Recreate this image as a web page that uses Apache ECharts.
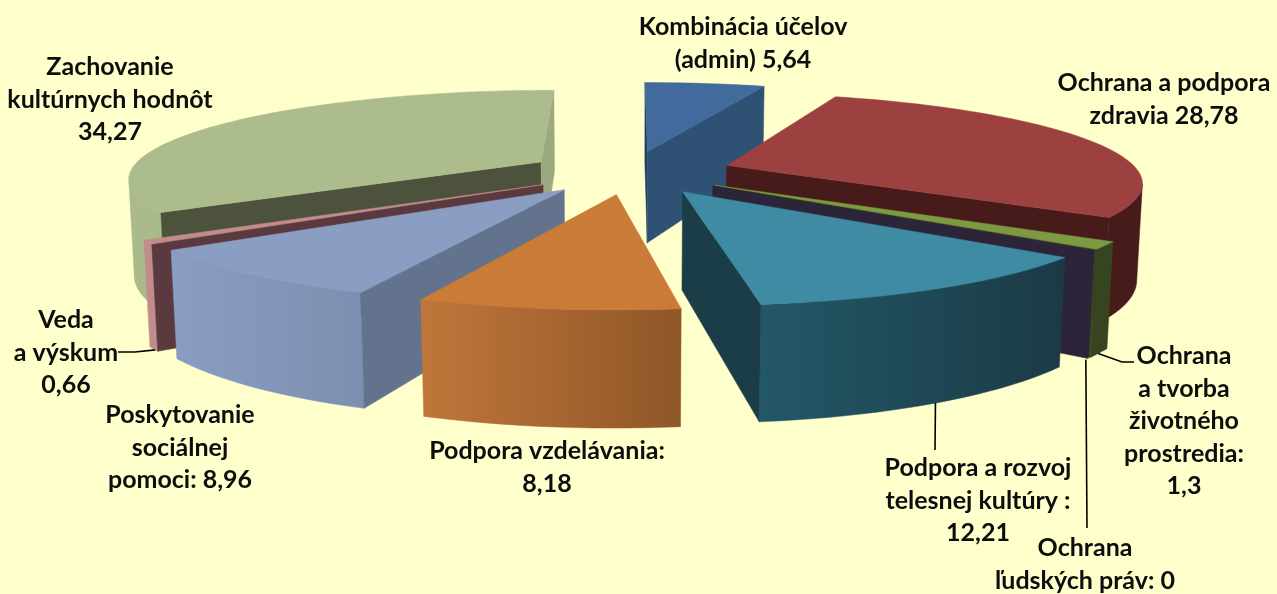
<!DOCTYPE html>
<html>
<head>
<meta charset="utf-8">
<title>Pie</title>
<style>html,body{margin:0;padding:0;background:#ffffcc}#main{width:1277px;height:594px}</style>
<script src="https://cdn.jsdelivr.net/npm/echarts@6/dist/echarts.min.js"></script>
</head>
<body>
<div id="main"></div>
<script>
// clockwise from 12 o'clock
var categories = ['Kombinácia účelov', 'Ochrana a podpora zdravia', 'Ochrana a tvorba životného prostredia',
    'Ochrana ľudských práv', 'Podpora a rozvoj telesnej kultúry', 'Podpora vzdelávania',
    'Poskytovanie sociálnej pomoci', 'Veda a výskum', 'Zachovanie kultúrnych hodnôt'];
var values = [5.64, 28.78, 1.3, 0, 12.21, 8.18, 8.96, 0.66, 34.27];
var labelTexts = ['Kombinácia účelov\n(admin) {v}', 'Ochrana a podpora\nzdravia {v}', 'Ochrana\na tvorba\nživotného\nprostredia:\n{v}',
    'Ochrana\nľudských práv: {v}', 'Podpora a rozvoj\ntelesnej kultúry :\n{v}', 'Podpora vzdelávania:\n{v}',
    'Poskytovanie\nsociálnej\npomoci: {v}', 'Veda\na výskum\n{v}', 'Zachovanie\nkultúrnych hodnôt\n{v}'];

// top, outer wall left/right, start cut wall, end cut wall
var colors = [
    ['#426a9c', '#2f5174', '#2f5174', '#1f3f63', '#2f5174'],
    ['#9c4040', '#461b19', '#461b19', '#461b19', '#461b19'],
    ['#7d9a42', '#364420', '#364420', '#364420', '#364420'],
    ['#2c2439', '#2c2439', '#2c2439', '#2c2439', '#2c2439'],
    ['#3e8ba3', '#235868', '#1b3a46', '#1b3d48', '#1b3d48'],
    ['#c97b37', '#c0763a', '#8f5628', '#a5652f', '#a5652f'],
    ['#8a9dc2', '#8a9dc2', '#7d8fb0', '#63738e', '#63738e'],
    ['#c38c8c', '#c38c8c', '#c38c8c', '#5b3a3f', '#5b3a3f'],
    ['#adbc8d', '#abba8b', '#abba8b', '#4c523b', '#9aa97e']
];

// projection of the tilted pie
var cx = 630, cy = 172, scaleX = 412, scaleY = 87, persp = 0.17, lean = 0.011, depth = 96, explode = 0.25;
var total = values.reduce(function (a, b) { return a + b; }, 0);

var slices = [];
var acc = 0;
values.forEach(function (v, i) {
    var start = acc / total * 360;
    acc += v;
    slices.push({index: i, start: start, end: acc / total * 360});
});

function project(slice, r, deg, z) {
    var mid = (slice.start + slice.end) / 2 * Math.PI / 180;
    var a = deg * Math.PI / 180;
    var u = r * Math.sin(a) + explode * Math.sin(mid);
    var v = -r * Math.cos(a) - explode * Math.cos(mid);
    var w = 1 / (1 - persp * v + lean * z);
    return [cx + scaleX * u * w, cy + (scaleY * v + depth * z) * w];
}

function arcDegrees(from, to) {
    var out = [];
    var n = Math.max(1, Math.ceil((to - from) / 2));
    for (var i = 0; i <= n; i++) {
        out.push(from + (to - from) * i / n);
    }
    return out;
}

function cutWallVisible(slice, deg, insideDeg) {
    var a = project(slice, 0, deg, 0);
    var b = project(slice, 1, deg, 0);
    var c = project(slice, 1, insideDeg, 0);
    var ex = b[0] - a[0], ey = b[1] - a[1];
    var inside = ex * (c[1] - a[1]) - ey * (c[0] - a[0]);
    return inside * ex < 0;
}

function poly(points, fill) {
    return {type: 'polygon', shape: {points: points}, silent: true,
        style: {fill: fill, stroke: fill, lineWidth: 0.5}};
}

function renderSlice(params, api) {
    var slice = slices[api.value(0)];
    var c = colors[slice.index];
    var children = [];
    var degs = arcDegrees(slice.start, slice.end);

    // outer wall, only the part facing the viewer
    var wallDegs = degs.filter(function (d, i) {
        var next = degs[i + 1] !== undefined ? degs[i + 1] : d;
        var prev = degs[i - 1] !== undefined ? degs[i - 1] : d;
        return project(slice, 1, next, 0)[0] < project(slice, 1, prev, 0)[0];
    });
    if (wallDegs.length > 1) {
        var wall = wallDegs.map(function (d) { return project(slice, 1, d, 0); })
            .concat(wallDegs.slice().reverse().map(function (d) { return project(slice, 1, d, 1); }));
        children.push(poly(wall, new echarts.graphic.LinearGradient(0, 0, 1, 0, [
            {offset: 0, color: c[1]}, {offset: 1, color: c[2]}
        ])));
    }

    // cut walls
    [[slice.start, slice.start + 1, c[3]], [slice.end, slice.end - 1, c[4]]].forEach(function (w) {
        if (cutWallVisible(slice, w[0], w[1])) {
            children.push(poly([project(slice, 0, w[0], 0), project(slice, 1, w[0], 0),
                project(slice, 1, w[0], 1), project(slice, 0, w[0], 1)], w[2]));
        }
    });

    // top face
    if (slice.end > slice.start) {
        var top = [project(slice, 0, slice.start, 0)].concat(degs.map(function (d) {
            return project(slice, 1, d, 0);
        }));
        children.push(poly(top, c[0]));
    }
    return {type: 'group', children: children};
}

// back to front
var paintOrder = slices.slice().sort(function (a, b) {
    var ma = (a.start + a.end) / 2 * Math.PI / 180, mb = (b.start + b.end) / 2 * Math.PI / 180;
    return Math.cos(mb) - Math.cos(ma);
});

// label centre x, first line centre y
var labelPos = [[743, 27], [1164, 83], [1184, 356], [1085, 548], [978, 468], [547, 451], [180, 415], [66, 320], [110, 67]];
var lineHeight = 32.6;

var graphics = labelTexts.map(function (t, i) {
    return {type: 'text', x: labelPos[i][0], y: labelPos[i][1] - lineHeight / 2, silent: true, z: 10,
        style: {
            text: t.replace('{v}', String(values[i]).replace('.', ',')),
            fontFamily: 'Lato', fontWeight: 'bold', fontSize: 25, lineHeight: lineHeight,
            fill: '#0d0d0d', textAlign: 'center', textVerticalAlign: 'top'
        }};
});

// leader lines: slice index, angle on the lower rim, then the route to the label
var leaders = [
    {i: 7, deg: 235, route: [[135, 352], [118, 352]]},
    {i: 2, deg: 126.5, route: [[1122, 362], [1134, 362]]},
    {i: 3, deg: 129.2, route: [[1087, 528]]},
    {i: 4, deg: 150.7, route: [[935, 450]]}
];
leaders.forEach(function (l) {
    var p = project(slices[l.i], 1, l.deg, 1);
    graphics.push({type: 'polyline', silent: true, z: 9,
        shape: {points: [p].concat(l.route)},
        style: {stroke: '#000', lineWidth: 1.6, fill: null}});
});

var chart = echarts.init(document.getElementById('main'));
chart.setOption({
    backgroundColor: '#ffffcc',
    animation: false,
    graphic: graphics,
    series: [{
        type: 'custom',
        coordinateSystem: 'none',
        silent: true,
        renderItem: renderSlice,
        data: paintOrder.map(function (s) { return {name: categories[s.index], value: [s.index, values[s.index]]}; })
    }]
});
</script>
</body>
</html>
